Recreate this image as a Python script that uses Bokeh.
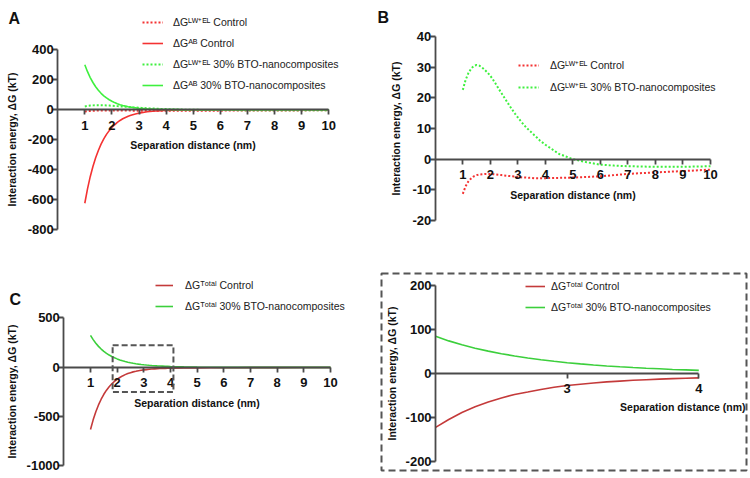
from bokeh.plotting import figure
from bokeh.models import Range1d, FixedTicker, Legend, LegendItem, Label, BoxAnnotation
from bokeh.layouts import column, row
from bokeh.embed import file_html
from bokeh.resources import INLINE

# ---------------- data ----------------
dist_nm = [1.0, 1.1, 1.2, 1.3, 1.4, 1.5, 1.6, 1.7, 1.8, 1.9,
           2.0, 2.1, 2.2, 2.3, 2.4, 2.5, 2.6, 2.7, 2.8, 2.9,
           3.0, 3.1, 3.2, 3.3, 3.4, 3.5, 3.6, 3.7, 3.8, 3.9,
           4.0, 4.5, 5.0, 5.5, 6.0, 6.5, 7.0, 8.0, 9.0, 10.0]

lwel_control = [-11.3, -8.9, -7.3, -6.3, -5.6, -5.2, -5.0, -4.9, -4.8, -4.8,
                -4.8, -4.9, -5.0, -5.1, -5.2, -5.3, -5.4, -5.5, -5.6, -5.7,
                -5.8, -5.9, -6.0, -6.0, -6.1, -6.1, -6.2, -6.2, -6.2, -6.2,
                -6.2, -6.1, -6.0, -5.8, -5.6, -5.2, -4.8, -4.3, -3.9, -3.4]

ab_control = [-623, -527, -446, -378, -320, -271, -229, -194, -164, -139,
              -118, -100, -84, -71, -60, -51, -43, -37, -31, -26,
              -22, -19, -16, -13.5, -11.5, -9.7, -8.2, -7.0, -5.9, -5.0,
              -4.2, -1.8, -0.8, -0.35, -0.15, -0.06, -0.03, 0, 0, 0]

lwel_bto = [22.6, 25.8, 28.0, 29.5, 30.4, 30.7, 30.5, 29.9, 29.1, 28.2,
            27.2, 25.9, 24.5, 23.0, 21.6, 20.2, 18.8, 17.4, 16.1, 14.8,
            13.6, 12.5, 11.4, 10.4, 9.5, 8.7, 7.8, 7.0, 6.1, 5.4,
            4.7, 1.7, 0.0, -1.0, -1.8, -2.1, -2.3, -2.5, -2.5, -2.3]

ab_bto = [300, 254, 215, 182, 154, 130, 110, 93, 79, 67,
          57, 48, 40.5, 34.3, 29, 24.6, 20.8, 17.6, 14.9, 12.6,
          10.7, 9.0, 7.6, 6.5, 5.5, 4.6, 3.9, 3.3, 2.8, 2.4,
          2.0, 0.9, 0.4, 0.17, 0.07, 0.03, 0.01, 0, 0, 0]

total_control = [-634, -536, -453, -384, -326, -276, -234, -199, -169, -144,
                 -123, -105, -89, -76, -65, -56, -48, -42.5, -36.6, -31.7,
                 -27.8, -24.9, -22.0, -19.5, -17.6, -15.8, -14.4, -13.2, -12.1, -11.2,
                 -10.4, -7.9, -6.8, -6.2, -5.8, -5.3, -4.8, -4.3, -3.9, -3.4]

total_bto = [323, 280, 243, 211.5, 184.4, 160.7, 140.5, 122.9, 108.1, 95.2,
             84.2, 73.9, 65.0, 57.3, 50.6, 44.8, 39.6, 35.0, 31.0, 27.4,
             24.3, 21.5, 19.0, 16.9, 15.0, 13.3, 11.7, 10.3, 8.9, 7.8,
             6.7, 2.6, 0.4, -0.8, -1.7, -2.1, -2.3, -2.5, -2.5, -2.3]

x_ticks = [1, 2, 3, 4, 5, 6, 7, 8, 9, 10]
x_tick_labels = ["1", "2", "3", "4", "5", "6", "7", "8", "9", "10"]
zoom_x_ticks = [3, 4]
zoom_x_tick_labels = ["3", "4"]
yA_ticks = [-800, -600, -400, -200, 0, 200, 400]
yA_labels = ["-800", "-600", "-400", "-200", "0", "200", "400"]
yB_ticks = [-20, -10, 0, 10, 20, 30, 40]
yB_labels = ["-20", "-10", "0", "10", "20", "30", "40"]
yC_ticks = [-1000, -500, 0, 500]
yC_labels = ["-1000", "-500", "0", "500"]
yD_ticks = [-200, -100, 0, 100, 200]
yD_labels = ["-200", "-100", "0", "100", "200"]
zoom_window = [1.83, 4.11, -253, 222]   # left, right, bottom, top of the zoom box in panel C

lab_lw_c = "ΔGᴸᵂ⁺ᴱᴸ Control"
lab_ab_c = "ΔGᴬᴮ Control"
lab_lw_b = "ΔGᴸᵂ⁺ᴱᴸ 30% BTO-nanocomposites"
lab_ab_b = "ΔGᴬᴮ 30% BTO-nanocomposites"
lab_tot_c = "ΔGᵀᵒᵗᵃˡ Control"
lab_tot_b = "ΔGᵀᵒᵗᵃˡ 30% BTO-nanocomposites"
y_title = "Interaction energy, ΔG (kT)"
x_title = "Separation distance (nm)"

# ---------------- layout helpers ----------------
W_TOT, H_TOT = 748, 476
RX0, RX1, RY0, RY1 = 0, 748, 0, 476
KX = W_TOT / (RX1 - RX0)
KY = H_TOT / (RY1 - RY0)


def LX(r):
    return (r - RX0) * KX


def LY(r):
    return (r - RY0) * KY


COL = round(LX(375))
ROW = round(LY(240))

FONT = "Liberation Sans"
AX_COL = "#4a4a4a"
RED1, GREEN1 = "#f43232", "#3ef03e"
RED2, GREEN2 = "#c43a3a", "#3ccf3c"


def make_panel(canvas, frame, xa, ya):
    cx0, cy0, cx1, cy1 = canvas
    fx0, fy0, fx1, fy1 = round(LX(frame[0])), round(LY(frame[1])), round(LX(frame[2])), round(LY(frame[3]))
    fx0, fy0 = max(fx0, cx0), max(fy0, cy0)
    fx1, fy1 = min(fx1, cx1), min(fy1, cy1)
    (v1, r1), (v2, r2) = xa
    p1, p2 = LX(r1), LX(r2)
    sx = (p2 - p1) / (v2 - v1)
    x0 = v1 - (p1 - fx0) / sx
    x1 = v1 + (fx1 - p1) / sx
    (w1, q1), (w2, q2) = ya
    t1, t2 = LY(q1), LY(q2)
    sy = (t2 - t1) / (w1 - w2)
    ytop = w1 + (t1 - fy0) / sy
    ybot = w1 - (fy1 - t1) / sy
    p = figure(width=cx1 - cx0, height=cy1 - cy0,
               x_range=Range1d(x0, x1), y_range=Range1d(ybot, ytop),
               output_backend="svg", toolbar_location=None,
               min_border_left=fx0 - cx0, min_border_right=cx1 - fx1,
               min_border_top=fy0 - cy0, min_border_bottom=cy1 - fy1)
    p.xgrid.visible = False
    p.ygrid.visible = False
    p.outline_line_color = None
    p.background_fill_color = None
    p.border_fill_color = None

    def dx(r):
        return x0 + (LX(r) - fx0) / sx

    def dy(r):
        return ytop - (LY(r) - fy0) / sy

    info = dict(fx0=fx0, fy0=fy0, fx1=fx1, fy1=fy1, dx=dx, dy=dy)
    return p, info


def style_axes(p, xt, xl, xb, yt, yl, yb, yfix, xlabel=True, ystand=6):
    xa = p.xaxis[0]
    ya = p.yaxis[0]
    xa.fixed_location = 0
    ya.fixed_location = yfix
    xa.ticker = FixedTicker(ticks=xt)
    ya.ticker = FixedTicker(ticks=yt)
    xa.major_label_overrides = {t: s for t, s in zip(xt, xl)}
    ya.major_label_overrides = {t: s for t, s in zip(yt, yl)}
    xa.bounds = xb
    ya.bounds = yb
    for a in (xa, ya):
        a.axis_line_color = AX_COL
        a.axis_line_width = 1.8
        a.major_tick_line_color = AX_COL
        a.major_tick_line_width = 1.8
        a.major_tick_out = 5
        a.major_tick_in = 0
        a.minor_tick_line_color = None
        a.major_label_text_font = FONT
        a.major_label_text_font_style = "bold"
        a.major_label_text_font_size = "13px"
        a.major_label_text_color = "#111111"
        a.axis_label_text_font = FONT
        a.axis_label_text_font_style = "bold"
        a.axis_label_text_font_size = "10.5px"
        a.axis_label_text_color = "#111111"
    xa.major_label_standoff = 6
    ya.major_label_standoff = -1
    if xlabel:
        xa.axis_label = x_title
        xa.axis_label_standoff = 6
    ya.axis_label = y_title
    ya.axis_label_standoff = int(ystand)


def add_legend(p, info, entries, glyph_l, glyph_r, text_l, first_c, last_c):
    n = len(entries)
    item_h = 16
    pitch = (last_c - first_c) / (n - 1) * KY if n > 1 else 20
    spacing = max(0, int(round(pitch - item_h)))
    top = LY(first_c) - item_h / 2
    bottom = top + n * item_h + (n - 1) * spacing
    vx = LX(glyph_l) - info["fx0"]
    vy = info["fy1"] - bottom
    leg = Legend(items=[LegendItem(label=lab, renderers=[r]) for lab, r in entries],
                 location=(vx, vy), padding=0, margin=0, spacing=spacing,
                 glyph_width=int(round((glyph_r - glyph_l) * KX)), glyph_height=item_h,
                 label_height=item_h, label_standoff=int(round((text_l - glyph_r) * KX)),
                 label_text_font=FONT, label_text_font_size="10.5px",
                 label_text_color="#222222", border_line_color=None,
                 background_fill_alpha=0, inactive_fill_alpha=0)
    p.add_layout(leg)


def letter(p, info, txt, xr, yr):
    p.add_layout(Label(x=info["dx"](xr), y=info["dy"](yr), text=txt, text_font=FONT,
                       text_font_style="bold", text_font_size="16px",
                       text_align="left", text_baseline="alphabetic", text_color="#111111"))


# ---------------- Panel A ----------------
pA, iA = make_panel((0, 0, COL, ROW), (0, 0, 375, 240), ((1, 84.3), (10, 328.3)), ((400, 49.3), (-800, 229.3)))
style_axes(pA, x_ticks, x_tick_labels, (0, 10), yA_ticks, yA_labels, (-800, 400), 0, ystand=6)
rA1 = pA.line(dist_nm, lwel_control, line_color=RED1, line_width=2, line_dash="2 2")
rA2 = pA.line(dist_nm, ab_control, line_color=RED1, line_width=1.6)
rA3 = pA.line(dist_nm, lwel_bto, line_color=GREEN1, line_width=2, line_dash="2 2")
rA4 = pA.line(dist_nm, ab_bto, line_color=GREEN1, line_width=1.6)
add_legend(pA, iA, [(lab_lw_c, rA1), (lab_ab_c, rA2), (lab_lw_b, rA3), (lab_ab_b, rA4)],
           142, 163, 173, 22, 85)
letter(pA, iA, "A", 8, 17.5)

# ---------------- Panel B ----------------
pB, iB = make_panel((COL, 0, W_TOT, ROW), (375, 0, 748, 240), ((1, 462.3), (10, 710)), ((40, 36), (-20, 220)))
style_axes(pB, x_ticks, x_tick_labels, (0, 10), yB_ticks, yB_labels, (-20, 40), 0, ystand=8)
rB1 = pB.line(dist_nm, lwel_control, line_color=RED1, line_width=2, line_dash="2 2")
rB2 = pB.line(dist_nm, lwel_bto, line_color=GREEN1, line_width=2, line_dash="2 2")
add_legend(pB, iB, [(lab_lw_c, rB1), (lab_lw_b, rB2)], 518, 539, 550, 65, 87.3)
letter(pB, iB, "B", 377, 17)

# ---------------- Panel C ----------------
pC, iC = make_panel((0, ROW, COL, H_TOT), (0, 240, 375, 476), ((1, 90), (10, 330)), ((500, 293.3), (-1000, 470)))
style_axes(pC, x_ticks, x_tick_labels, (0, 10), yC_ticks, yC_labels, (-1000, 500), 0, ystand=5)
rC1 = pC.line(dist_nm, total_control, line_color=RED2, line_width=1.6)
rC2 = pC.line(dist_nm, total_bto, line_color=GREEN2, line_width=1.6)
add_legend(pC, iC, [(lab_tot_c, rC1), (lab_tot_b, rC2)], 155, 173, 185, 291, 312.3)
pC.add_layout(BoxAnnotation(left=zoom_window[0], right=zoom_window[1],
                            bottom=zoom_window[2], top=zoom_window[3],
                            fill_alpha=0, line_color="#555555", line_alpha=1.0,
                            line_width=2, line_dash="6 3"))
letter(pC, iC, "C", 9, 271.5)

# ---------------- Panel D (zoom) ----------------
pD, iD = make_panel((COL, ROW, W_TOT, H_TOT), (381, 273, 746, 470), ((3, 566.7), (4, 698.3)), ((200, 285), (-200, 460.7)))
style_axes(pD, zoom_x_ticks, zoom_x_tick_labels, (2, 4), yD_ticks, yD_labels, (-200, 200), 2,
           xlabel=False, ystand=4)
pD.outline_line_color = "#555555"
pD.outline_line_width = 2
pD.outline_line_dash = "7 4"
sel = [i for i, d in enumerate(dist_nm) if 2.0 <= d <= 4.0]
xd = [dist_nm[i] for i in sel]
rD1 = pD.line(xd, [total_control[i] for i in sel], line_color=RED2, line_width=1.6)
rD2 = pD.line(xd, [total_bto[i] for i in sel], line_color=GREEN2, line_width=1.6)
add_legend(pD, iD, [(lab_tot_c, rD1), (lab_tot_b, rD2)], 525, 545, 551, 286, 306.7)
pD.add_layout(Label(x=iD["dx"](745), y=iD["dy"](406.7), text=x_title, text_font=FONT,
                    text_font_style="bold", text_font_size="10.5px", text_color="#111111",
                    text_align="right", text_baseline="middle"))

layout = column(row(pA, pB), row(pC, pD))
open("out.html", "w").write(file_html(layout, INLINE))
